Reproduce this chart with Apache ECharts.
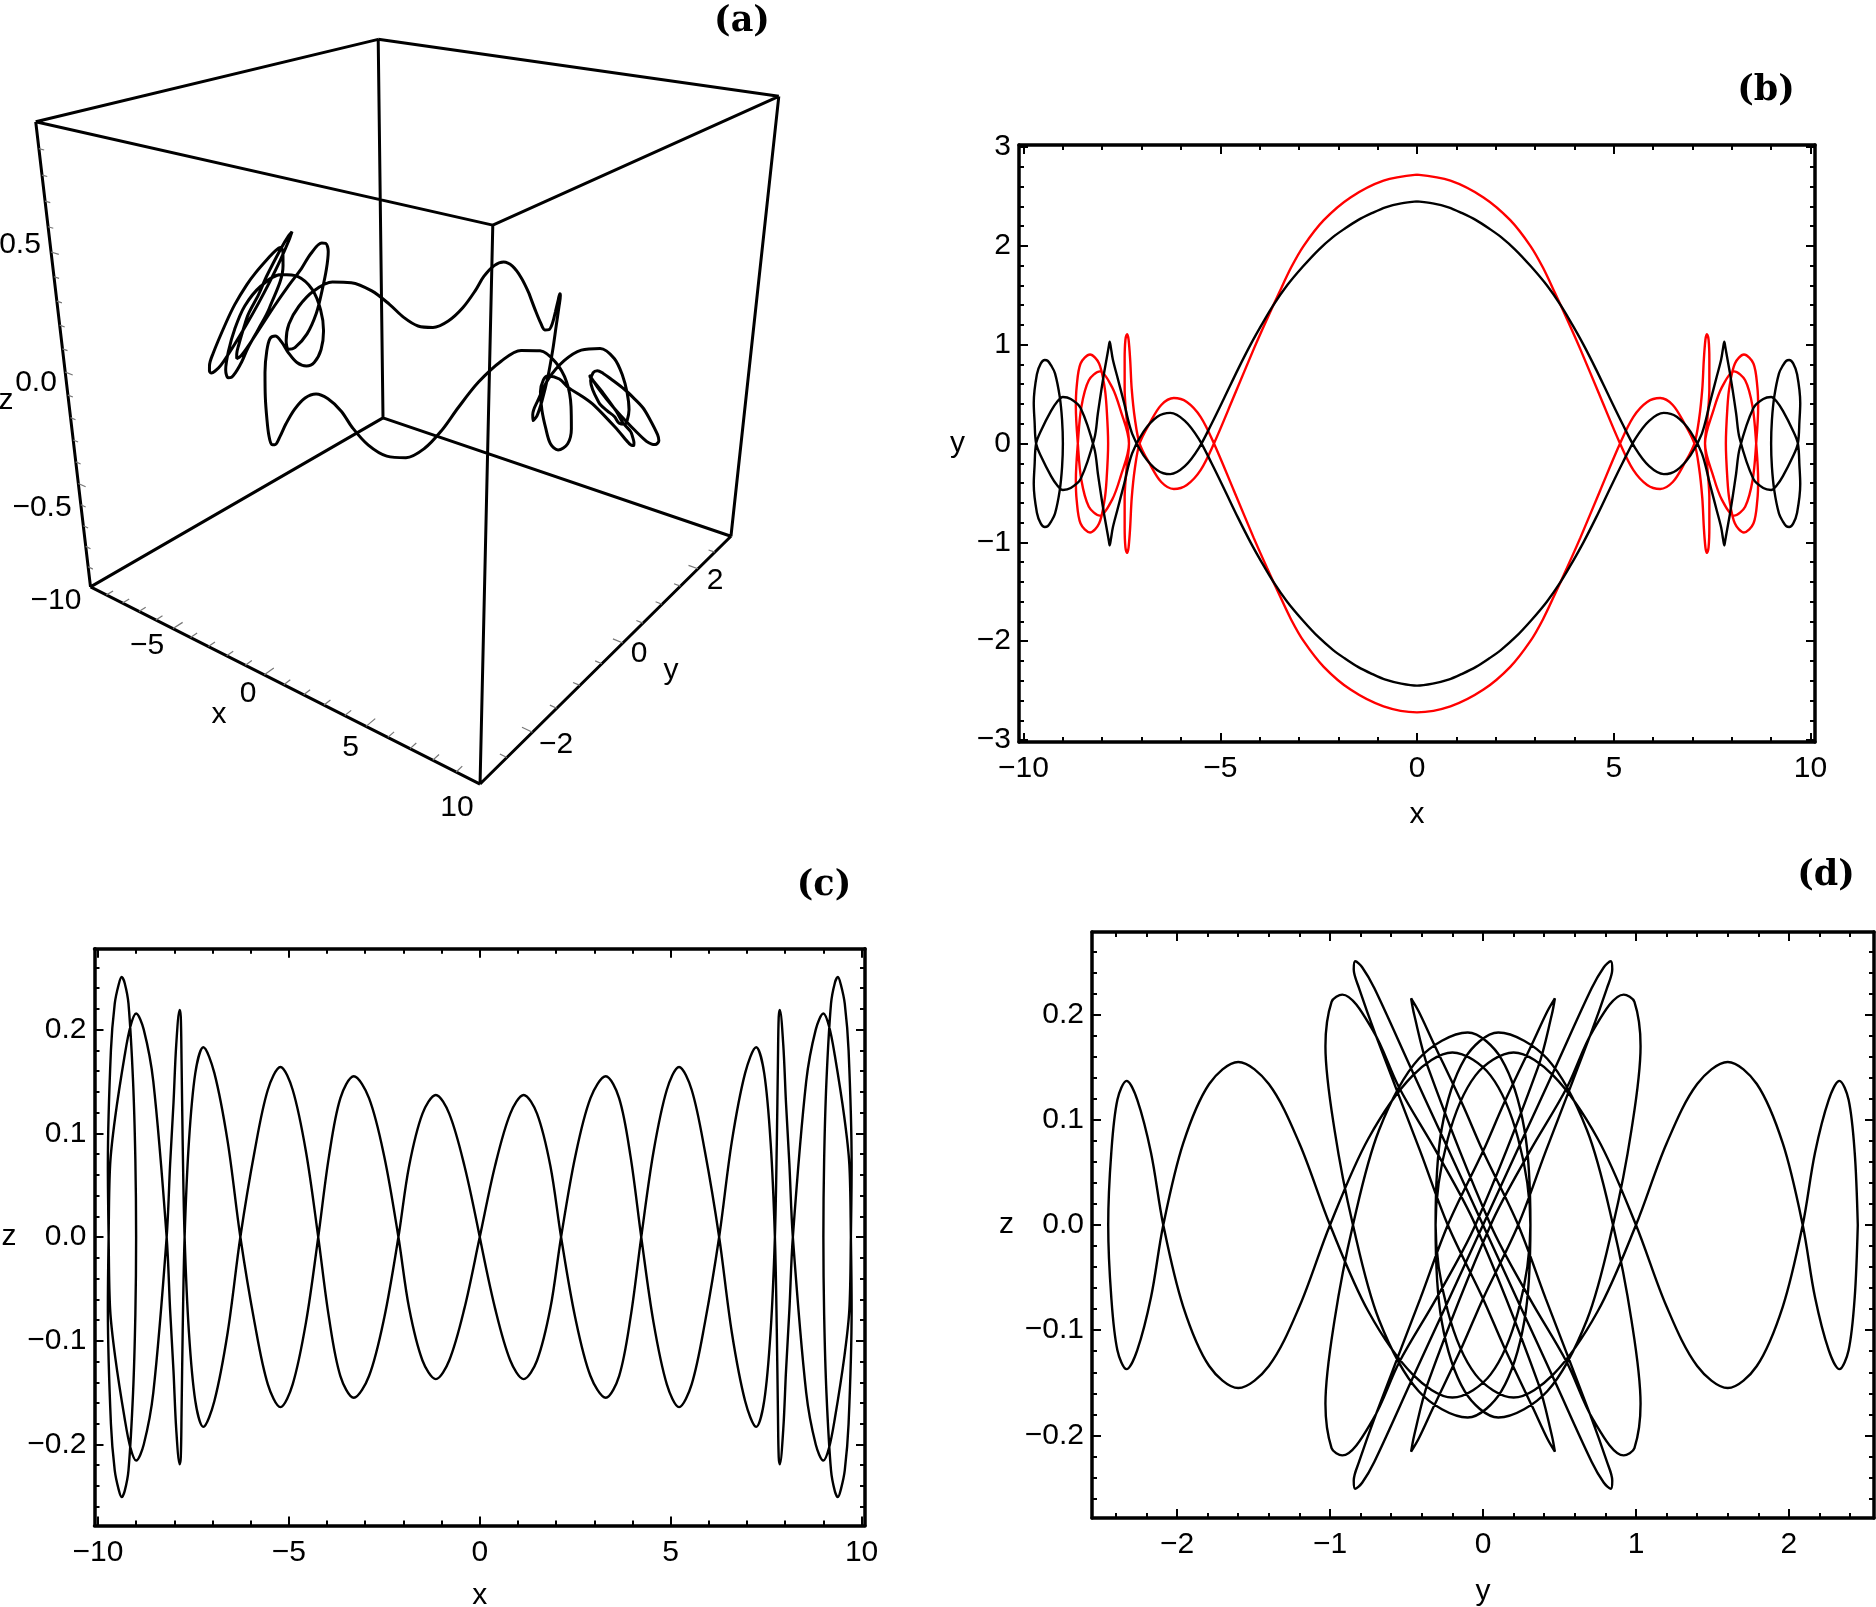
<!DOCTYPE html>
<html>
<head>
<meta charset="utf-8">
<style>html,body{margin:0;padding:0;background:#fff}#chart{width:1876px;height:1607px}</style>
<script src="https://cdn.jsdelivr.net/npm/echarts@6/dist/echarts.min.js"></script>
</head>
<body>
<div id="chart"></div>
<script>
const orbitPoints = [
  [0,2.45,0],[-0.4,2.43,0.0685],[-0.8,2.39,0.119],[-1.15,2.33,0.137],[-1.5,2.26,0.119],[-1.85,2.17,0.0685],[-2.13,2.09,0],
  [-2.5,1.96,-0.0775],[-2.9,1.79,-0.134],[-3.3,1.6,-0.155],[-3.65,1.4,-0.134],[-3.95,1.2,-0.0775],[-4.23,1,0],
  [-4.55,0.75,0.082],[-4.9,0.46,0.142],[-5.22,0.2,0.164],[-5.55,-0.05,0.142],[-5.9,-0.23,0.082],[-6.27,-0.31,0],
  [-6.6,-0.27,-0.0915],[-6.95,-0.12,-0.158],[-7.24,0.1,-0.183],[-7.45,0.42,-0.158],[-7.62,0.68,-0.09],[-7.73,0.85,0],
  [-7.78,0.97,0.09],[-7.81,1.03,0.17],[-7.83,0.99,0.212],[-7.86,0.92,0.219],[-7.95,0.72,0.185],[-8.02,0.546,0.13],[-8.11,0.306,0.07],[-8.2,0.05,0],
  [-8.55,-0.36,-0.15],[-8.8,-0.45,-0.2],[-9,-0.47,-0.2155],[-9.15,-0.42,-0.203],[-9.3,-0.33,-0.175],[-9.55,-0.135,-0.115],[-9.68,0,-0.07],[-9.72,0.23,0],
  [-9.74,0.41,0.07],[-9.66,0.7,0.18],[-9.56,0.81,0.225],[-9.46,0.845,0.243],[-9.38,0.835,0.2507],[-9.3,0.79,0.245],[-9.2,0.71,0.225],[-9.08,0.474,0.15],[-9.02,0.237,0.075],[-9,0,0],
  [-9.02,-0.237,-0.075],[-9.08,-0.474,-0.15],[-9.2,-0.71,-0.225],[-9.3,-0.79,-0.245],[-9.38,-0.835,-0.2507],[-9.46,-0.845,-0.243],[-9.56,-0.81,-0.225],[-9.66,-0.7,-0.18],[-9.74,-0.41,-0.07],
  [-9.72,-0.23,0],[-9.68,0,0.07],[-9.55,0.135,0.115],[-9.3,0.33,0.175],[-9.15,0.42,0.203],[-9,0.47,0.2155],[-8.8,0.45,0.2],[-8.55,0.36,0.15],
  [-8.2,-0.05,0],[-8.11,-0.306,-0.07],[-8.02,-0.546,-0.13],[-7.95,-0.72,-0.185],[-7.86,-0.92,-0.219],[-7.83,-0.99,-0.212],[-7.81,-1.03,-0.17],[-7.78,-0.97,-0.09],
  [-7.73,-0.85,0],[-7.62,-0.68,0.09],[-7.45,-0.42,0.158],[-7.24,-0.1,0.183],[-6.95,0.12,0.158],[-6.6,0.27,0.0915],[-6.27,0.31,0],
  [-5.9,0.23,-0.082],[-5.55,0.05,-0.142],[-5.22,-0.2,-0.164],[-4.9,-0.46,-0.142],[-4.55,-0.75,-0.082],[-4.23,-1,0],
  [-3.95,-1.2,0.0775],[-3.65,-1.4,0.134],[-3.3,-1.6,0.155],[-2.9,-1.79,0.134],[-2.5,-1.96,0.0775],[-2.13,-2.09,0],
  [-1.85,-2.17,-0.0685],[-1.5,-2.26,-0.119],[-1.15,-2.33,-0.137],[-0.8,-2.39,-0.119],[-0.4,-2.43,-0.0685],[0,-2.45,0],
  // right hand side
  [0.4,-2.43,0.0685],[0.8,-2.39,0.119],[1.15,-2.33,0.137],[1.5,-2.26,0.119],[1.85,-2.17,0.0685],[2.13,-2.09,0],
  [2.5,-1.96,-0.0775],[2.9,-1.79,-0.134],[3.3,-1.6,-0.155],[3.65,-1.4,-0.134],[3.95,-1.2,-0.0775],[4.23,-1,0],
  [4.55,-0.75,0.082],[4.9,-0.46,0.142],[5.22,-0.2,0.164],[5.55,0.05,0.142],[5.9,0.23,0.082],[6.27,0.31,0],
  [6.6,0.27,-0.0915],[6.95,0.12,-0.158],[7.24,-0.1,-0.183],[7.45,-0.42,-0.158],[7.62,-0.68,-0.09],[7.73,-0.85,0],
  [7.78,-0.97,0.09],[7.81,-1.03,0.17],[7.83,-0.99,0.212],[7.86,-0.92,0.219],[7.95,-0.72,0.185],[8.02,-0.546,0.13],[8.11,-0.306,0.07],[8.2,-0.05,0],
  [8.55,0.36,-0.15],[8.8,0.45,-0.2],[9,0.47,-0.2155],[9.15,0.42,-0.203],[9.3,0.33,-0.175],[9.55,0.135,-0.115],[9.68,0,-0.07],[9.72,-0.23,0],
  [9.74,-0.41,0.07],[9.66,-0.7,0.18],[9.56,-0.81,0.225],[9.46,-0.845,0.243],[9.38,-0.835,0.2507],[9.3,-0.79,0.245],[9.2,-0.71,0.225],[9.08,-0.474,0.15],[9.02,-0.237,0.075],[9,0,0],
  [9.02,0.237,-0.075],[9.08,0.474,-0.15],[9.2,0.71,-0.225],[9.3,0.79,-0.245],[9.38,0.835,-0.2507],[9.46,0.845,-0.243],[9.56,0.81,-0.225],[9.66,0.7,-0.18],[9.74,0.41,-0.07],
  [9.72,0.23,0],[9.68,0,0.07],[9.55,-0.135,0.115],[9.3,-0.33,0.175],[9.15,-0.42,0.203],[9,-0.47,0.2155],[8.8,-0.45,0.2],[8.55,-0.36,0.15],
  [8.2,0.05,0],[8.11,0.306,-0.07],[8.02,0.546,-0.13],[7.95,0.72,-0.185],[7.86,0.92,-0.219],[7.83,0.99,-0.212],[7.81,1.03,-0.17],[7.78,0.97,-0.09],
  [7.73,0.85,0],[7.62,0.68,0.09],[7.45,0.42,0.158],[7.24,0.1,0.183],[6.95,-0.12,0.158],[6.6,-0.27,0.0915],[6.27,-0.31,0],
  [5.9,-0.23,-0.082],[5.55,-0.05,-0.142],[5.22,0.2,-0.164],[4.9,0.46,-0.142],[4.55,0.75,-0.082],[4.23,1,0],
  [3.95,1.2,0.0775],[3.65,1.4,0.134],[3.3,1.6,0.155],[2.9,1.79,0.134],[2.5,1.96,0.0775],[2.13,2.09,0],
  [1.85,2.17,-0.0685],[1.5,2.26,-0.119],[1.15,2.33,-0.137],[0.8,2.39,-0.119],[0.4,2.43,-0.0685],[0,2.45,0]
]

// red orbit of panel b: [x, y]
const redOrbit = [
  [0,2.72],[-0.85,2.66],[-1.69,2.49],[-2.37,2.26],[-2.88,2],[-3.2,1.78],[-3.51,1.52],[-3.81,1.26],[-4.15,0.955],[-4.65,0.48],[-5.16,0],
  [-5.5,-0.27],[-5.85,-0.42],[-6.18,-0.46],[-6.5,-0.39],[-6.8,-0.2],[-7.05,0],
  [-7.17,0.25],[-7.25,0.55],[-7.29,0.85],[-7.33,1.05],[-7.365,1.106],[-7.41,1.05],[-7.43,0.85],[-7.43,0.55],[-7.38,0.25],[-7.32,0],
  [-7.535,-0.337],[-7.75,-0.57],[-8.06,-0.73],[-8.34,-0.64],[-8.53,-0.37],[-8.62,0],
  [-8.67,0.37],[-8.65,0.57],[-8.55,0.81],[-8.31,0.9],[-8.08,0.81],[-7.94,0.57],[-7.89,0.37],[-7.85,0],
  [-7.89,-0.37],[-7.94,-0.57],[-8.08,-0.81],[-8.31,-0.9],[-8.55,-0.81],[-8.65,-0.57],[-8.67,-0.37],[-8.62,0],
  [-8.53,0.37],[-8.34,0.64],[-8.06,0.73],[-7.75,0.57],[-7.535,0.337],[-7.32,0],
  [-7.38,-0.25],[-7.43,-0.55],[-7.43,-0.85],[-7.41,-1.05],[-7.365,-1.106],[-7.33,-1.05],[-7.29,-0.85],[-7.25,-0.55],[-7.17,-0.25],[-7.05,0],
  [-6.8,0.2],[-6.5,0.39],[-6.18,0.46],[-5.85,0.42],[-5.5,0.27],[-5.16,0],
  [-4.65,-0.48],[-4.15,-0.955],[-3.81,-1.26],[-3.51,-1.52],[-3.2,-1.78],[-2.88,-2],[-2.37,-2.26],[-1.69,-2.49],[-0.85,-2.66],[0,-2.72],
  // right hand side
  [0.85,-2.66],[1.69,-2.49],[2.37,-2.26],[2.88,-2],[3.2,-1.78],[3.51,-1.52],[3.81,-1.26],[4.15,-0.955],[4.65,-0.48],[5.16,0],
  [5.5,0.27],[5.85,0.42],[6.18,0.46],[6.5,0.39],[6.8,0.2],[7.05,0],
  [7.17,-0.25],[7.25,-0.55],[7.29,-0.85],[7.33,-1.05],[7.365,-1.106],[7.41,-1.05],[7.43,-0.85],[7.43,-0.55],[7.38,-0.25],[7.32,0],
  [7.535,0.337],[7.75,0.57],[8.06,0.73],[8.34,0.64],[8.53,0.37],[8.62,0],
  [8.67,-0.37],[8.65,-0.57],[8.55,-0.81],[8.31,-0.9],[8.08,-0.81],[7.94,-0.57],[7.89,-0.37],[7.85,0],
  [7.89,0.37],[7.94,0.57],[8.08,0.81],[8.31,0.9],[8.55,0.81],[8.65,0.57],[8.67,0.37],[8.62,0],
  [8.53,-0.37],[8.34,-0.64],[8.06,-0.73],[7.75,-0.57],[7.535,-0.337],[7.32,0],
  [7.38,0.25],[7.43,0.55],[7.43,0.85],[7.41,1.05],[7.365,1.106],[7.33,1.05],[7.29,0.85],[7.25,0.55],[7.17,0.25],[7.05,0],
  [6.8,-0.2],[6.5,-0.39],[6.18,-0.46],[5.85,-0.42],[5.5,-0.27],[5.16,0],
  [4.65,0.48],[4.15,0.955],[3.81,1.26],[3.51,1.52],[3.2,1.78],[2.88,2],[2.37,2.26],[1.69,2.49],[0.85,2.66],[0,2.72]
]

// tick labels
const ticksX = [-10, -5, 0, 5, 10]
const ticksXMinor = [-9,-8,-7,-6,-4,-3,-2,-1,1,2,3,4,6,7,8,9]
const ticksBY = [-3, -2, -1, 0, 1, 2, 3]
const ticksBYMinor = [-2.8,-2.6,-2.4,-2.2,-1.8,-1.6,-1.4,-1.2,-0.8,-0.6,-0.4,-0.2,0.2,0.4,0.6,0.8,1.2,1.4,1.6,1.8,2.2,2.4,2.6,2.8]
const ticksZ = [-0.2, -0.1, 0, 0.1, 0.2]
const ticksZMinor = [-0.26,-0.24,-0.22,-0.18,-0.16,-0.14,-0.12,-0.08,-0.06,-0.04,-0.02,0.02,0.04,0.06,0.08,0.12,0.14,0.16,0.18,0.22,0.24,0.26]
const ticksDX = [-2, -1, 0, 1, 2]
const ticksDXMinor = [-2.4,-2.2,-1.8,-1.6,-1.4,-1.2,-0.8,-0.6,-0.4,-0.2,0.2,0.4,0.6,0.8,1.2,1.4,1.6,1.8,2.2,2.4]

// panel a: the 3D box, corners as [x, y, z] and where the picture has them
const boxCorners = [[-10,-3,-1],[10,-3,-1],[-10,3,-1],[10,3,-1],[-10,-3,1],[10,-3,1],[-10,3,1],[10,3,1]]
const boxCornersPx = [[90.5,587],[480,784],[383,418],[731,536],[36,121],[492.5,226],[378,39.7],[779,96]]
const boxEdges = [[0,1],[1,3],[3,2],[2,0],[4,5],[5,7],[7,6],[6,4],[0,4],[1,5],[3,7],[2,6]]
const box3dXMinor = [-9,-8,-7,-6,-4,-3,-2,-1,1,2,3,4,6,7,8,9]
const box3dXMajor = [-5,0,5]
const box3dYMajor = [-2,0,2]
const box3dYMinor = [-2.5,-1.5,-1,-0.5,0.5,1,1.5,2.5]
const box3dZMajor = [-0.5,0,0.5]
const box3dZMinor = [-0.9,-0.8,-0.7,-0.6,-0.4,-0.3,-0.2,-0.1,0.1,0.2,0.3,0.4,0.6,0.7,0.8,0.9]

const FONT = '"Liberation Sans", Arial, sans-serif'
const LABEL_SIZE = 30

// fit a projective camera to the box corners
function fitCamera () {
  const A = []
  const b = []
  boxCorners.forEach((c, i) => {
    const X = c[0] / 10, Y = c[1] / 3, Z = c[2]
    const u = boxCornersPx[i][0] / 1000, v = boxCornersPx[i][1] / 1000
    A.push([X, Y, Z, 1, 0, 0, 0, 0, -u * X, -u * Y, -u * Z]); b.push(u)
    A.push([0, 0, 0, 0, X, Y, Z, 1, -v * X, -v * Y, -v * Z]); b.push(v)
  })
  const n = 11
  const M = []
  for (let i = 0; i < n; i++) {
    M.push([])
    for (let j = 0; j < n; j++) {
      let s = 0
      A.forEach(r => { s += r[i] * r[j] })
      M[i].push(s)
    }
    let s = 0
    A.forEach((r, k) => { s += r[i] * b[k] })
    M[i].push(s)
  }
  for (let i = 0; i < n; i++) {
    let p = i
    for (let k = i + 1; k < n; k++) if (Math.abs(M[k][i]) > Math.abs(M[p][i])) p = k
    const t = M[i]; M[i] = M[p]; M[p] = t
    for (let k = 0; k < n; k++) {
      if (k === i) continue
      const f = M[k][i] / M[i][i]
      for (let j = i; j <= n; j++) M[k][j] -= f * M[i][j]
    }
  }
  return M.map((r, i) => r[n] / r[i])
}
const cam = fitCamera()
const project = (p) => {
  const X = p[0] / 10, Y = p[1] / 3, Z = p[2]
  const w = cam[8] * X + cam[9] * Y + cam[10] * Z + 1
  return [
    1000 * (cam[0] * X + cam[1] * Y + cam[2] * Z + cam[3]) / w,
    1000 * (cam[4] * X + cam[5] * Y + cam[6] * Z + cam[7]) / w
  ]
}

const GAP = [NaN, NaN]
const boxData = []
boxEdges.forEach(e => {
  boxData.push(project(boxCorners[e[0]]), project(boxCorners[e[1]]), GAP)
})
const tickData = []
const addTick = (from, to) => tickData.push(project(from), project(to), GAP)
box3dXMajor.forEach(v => addTick([v, -3, -1], [v, -2.84, -1]))
box3dXMinor.forEach(v => addTick([v, -3, -1], [v, -2.89, -1]))
box3dYMajor.forEach(v => addTick([10, v, -1], [9.55, v, -1]))
box3dYMinor.forEach(v => addTick([10, v, -1], [9.7, v, -1]))
box3dZMajor.forEach(v => addTick([-10, -3, v], [-9.55, -3, v]))
box3dZMinor.forEach(v => addTick([-10, -3, v], [-9.7, -3, v]))

const fmt1 = v => String(v).replace('-', '−')
const fmtZ = v => v.toFixed(1).replace('-', '−')

// four axes for one side pair: labelled major, minor, far major, far minor
function frameAxes (grid, horizontal, range, majors, minors, formatter, name, nameGap) {
  const near = horizontal ? 'bottom' : 'left'
  const far = horizontal ? 'top' : 'right'
  const base = { gridIndex: grid, type: 'value', min: range[0], max: range[1], splitLine: { show: false } }
  const line = { show: true, onZero: false, lineStyle: { color: '#000', width: 3.5 } }
  const noLine = { show: false, onZero: false }
  const tick = (vals, len) => ({ show: true, inside: true, length: len, customValues: vals, lineStyle: { color: '#000', width: 2 } })
  return [
    Object.assign({}, base, {
      position: near, axisLine: line, axisTick: tick(majors, 9),
      axisLabel: { show: true, customValues: majors, formatter, color: '#000', fontFamily: FONT, fontSize: LABEL_SIZE, margin: horizontal ? 12 : 8 },
      name, nameLocation: 'middle', nameGap, nameRotate: 0,
      nameTextStyle: { color: '#000', fontFamily: FONT, fontSize: LABEL_SIZE }
    }),
    Object.assign({}, base, { position: near, axisLine: noLine, axisTick: tick(minors, 5), axisLabel: { show: false } }),
    Object.assign({}, base, { position: far, axisLine: line, axisTick: tick(majors, 9), axisLabel: { show: false } }),
    Object.assign({}, base, { position: far, axisLine: noLine, axisTick: tick(minors, 5), axisLabel: { show: false } })
  ]
}

const grids = [
  { left: 0, top: 0, width: 800, height: 840, outerBoundsMode: 'none' },
  { left: 1019, top: 145, width: 796, height: 597, outerBoundsMode: 'none' },
  { left: 94.5, top: 948.7, width: 770.5, height: 576.7, outerBoundsMode: 'none' },
  { left: 1092, top: 932, width: 782, height: 586, outerBoundsMode: 'none' }
]

const xAxes = [{ gridIndex: 0, type: 'value', min: 0, max: 800, show: false }].concat(
  frameAxes(1, true, [-10.115, 10.115], ticksX, ticksXMinor, fmt1, 'x', 58),
  frameAxes(2, true, [-10.09, 10.09], ticksX, ticksXMinor, fmt1, 'x', 55),
  frameAxes(3, true, [-2.556, 2.556], ticksDX, ticksDXMinor, fmt1, 'y', 59)
)
const yAxes = [{ gridIndex: 0, type: 'value', min: 0, max: 840, inverse: true, show: false }].concat(
  frameAxes(1, false, [-3.02, 3.02], ticksBY, ticksBYMinor, fmt1, 'y', 54),
  frameAxes(2, false, [-0.278, 0.278], ticksZ, ticksZMinor, fmtZ, 'z', 78),
  frameAxes(3, false, [-0.2785, 0.2785], ticksZ, ticksZMinor, fmtZ, 'z', 78)
)

function curve (panel, data, color, width, smooth) {
  const ax = panel === 0 ? 0 : 1 + (panel - 1) * 4
  return {
    type: 'line', xAxisIndex: ax, yAxisIndex: ax, data, smooth, showSymbol: false, symbol: 'none',
    clip: false, silent: true, lineStyle: { color, width }, animation: false
  }
}

const SMOOTH = 0.33
const series = [
  curve(0, boxData, '#000', 3, false),
  curve(0, tickData, '#777', 1.2, false),
  curve(0, orbitPoints.map(project), '#000', 3, SMOOTH),
  curve(1, redOrbit, '#f00', 2.4, SMOOTH),
  curve(1, orbitPoints.map(p => [p[0], p[1]]), '#000', 2.4, SMOOTH),
  curve(2, orbitPoints.map(p => [p[0], p[2]]), '#000', 2.4, SMOOTH),
  curve(3, orbitPoints.map(p => [p[1], p[2]]), '#000', 2.4, SMOOTH)
]

// panel a labels and the panel letters
const textAt = (text, x, y, size, family, weight) => ({
  type: 'text', x, y,
  style: { text, fill: '#000', font: (weight || 'normal') + ' ' + size + 'px ' + family, textAlign: 'center', textVerticalAlign: 'middle' }
})
const LETTER = '"DejaVu Serif", serif'
const graphic = [
  ['−10', 56, 601], ['−5', 147, 646], ['0', 248, 694], ['5', 350.5, 748], ['10', 457, 807.6],
  ['−2', 556, 745], ['0', 639, 654], ['2', 715, 581],
  ['0.5', 20, 245], ['0.0', 36, 383], ['−0.5', 42, 508],
  ['x', 219, 715], ['y', 671, 671], ['z', 6, 401]
].map(t => textAt(t[0], t[1], t[2], LABEL_SIZE, FONT)).concat([
  textAt('(a)', 742, 22, 35, LETTER, 'bold'),
  textAt('(b)', 1766, 91, 35, LETTER, 'bold'),
  textAt('(c)', 824, 886, 35, LETTER, 'bold'),
  textAt('(d)', 1826, 876, 35, LETTER, 'bold')
])

const chart = echarts.init(document.getElementById('chart'), null, { renderer: 'canvas' })
chart.setOption({
  animation: false,
  backgroundColor: '#fff',
  grid: grids,
  xAxis: xAxes,
  yAxis: yAxes,
  series,
  graphic
})
</script>
</body>
</html>
